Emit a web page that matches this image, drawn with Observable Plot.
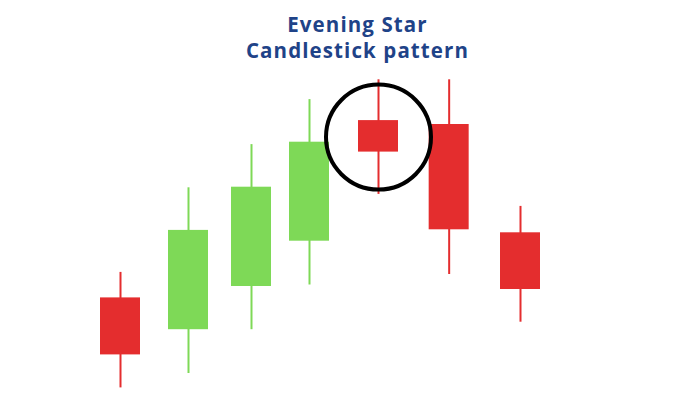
<!DOCTYPE html>
<html>
<head>
<meta charset="utf-8">
<script src="https://cdn.jsdelivr.net/npm/d3@7"></script>
<script src="https://cdn.jsdelivr.net/npm/@observablehq/plot@0.6"></script>
<style>
  html, body { margin: 0; padding: 0; background: #fff; }
  #wrap { position: relative; width: 700px; height: 400px; }
  #title {
    position: absolute; left: 0; top: 11px; width: 715px; text-align: center;
    font-family: "Open Sans", sans-serif; font-weight: 700; font-size: 20.5px;
    letter-spacing: 1.1px; line-height: 26px; color: #1f4388;
  }
  #chart { position: absolute; left: 0; top: 0; }
</style>
</head>
<body>
<div id="wrap">
  <div id="chart"></div>
  <div id="title">Evening Star<br>Candlestick pattern</div>
</div>
<script>
// Session (time) position of each candle
const session = [0, 1.02, 1.965, 2.835, 3.87, 4.93, 6.0];
const open  = [34.2, 23.6, 38.0, 53.1, 93.3, 92.0, 55.9];
const close = [15.2, 56.7, 71.1, 86.1, 82.8, 56.9, 37.0];
const high  = [42.7, 70.9, 85.3, 100.3, 106.9, 106.9, 64.7];
const low   = [4.2, 9.0, 23.6, 38.5, 68.7, 42.0, 26.1];
const starIndex = 4; // the evening star candle

const candles = session.map((t, i) => ({
  t, open: open[i], close: close[i], high: high[i], low: low[i],
  up: close[i] > open[i]
}));
const star = [candles[starIndex]];

const RED = "#e42d2e", GREEN = "#7ed957";
const half = 0.3;

const plot = Plot.plot({
  width: 700, height: 400,
  marginTop: 0, marginBottom: 0, marginLeft: 0, marginRight: 0,
  x: {domain: [-1.8, 8.7], axis: null},
  y: {domain: [0, 400 / 3], axis: null},
  style: {background: "transparent"},
  marks: [
    Plot.ruleX(candles, {x: "t", y1: "low", y2: "high",
      stroke: d => d.up ? GREEN : RED, strokeWidth: 2}),
    Plot.rect(candles, {x1: d => d.t - half, x2: d => d.t + half,
      y1: "open", y2: "close", fill: d => d.up ? GREEN : RED}),
    Plot.dot(star, {x: "t", y: d => (d.high + d.low) / 2, r: 52.5,
      stroke: "#000", strokeWidth: 4, fill: "none"})
  ]
});
document.getElementById("chart").appendChild(plot);
</script>
</body>
</html>
